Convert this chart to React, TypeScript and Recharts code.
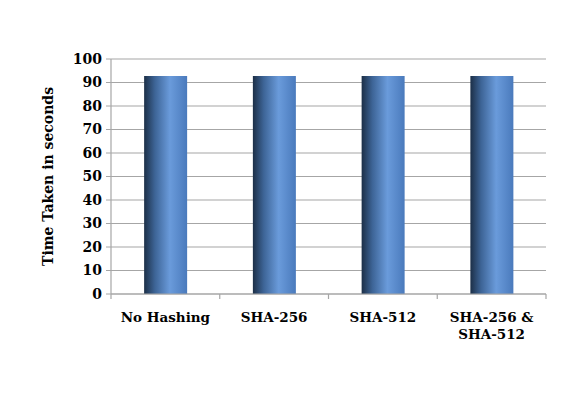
import { BarChart, Bar, XAxis, YAxis, CartesianGrid, Text } from "recharts";

const categories = ["No Hashing", "SHA-256", "SHA-512", "SHA-256 & SHA-512"];
const timeTaken = [92.8, 92.8, 92.8, 92.8];
const yTicks = [0, 10, 20, 30, 40, 50, 60, 70, 80, 90, 100];

const chartData = categories.map((name, i) => ({ name, time: timeTaken[i] }));

const FONT = "'DejaVu Serif', serif";
const GRID = "#a6a6a6";
const TICK_SIZE = 6;
const TICK_MARGIN = 12;

/* eslint-disable @typescript-eslint/no-explicit-any */
// category label, plus the tick marks that sit on the band boundaries
function CategoryTick(props: any) {
  const { x, y, payload, index, visibleTicksCount, width } = props;
  const band = width / visibleTicksCount;
  const axisY = y - TICK_SIZE - TICK_MARGIN;
  const left = x - band / 2;
  const right = x + band / 2;
  return (
    <g>
      <line x1={left} x2={left} y1={axisY} y2={axisY + 5} stroke={GRID} strokeWidth={1.2} />
      {index === visibleTicksCount - 1 && (
        <line x1={right} x2={right} y1={axisY} y2={axisY + 5} stroke={GRID} strokeWidth={1.2} />
      )}
      <Text
        x={x}
        y={y}
        width={105}
        textAnchor="middle"
        verticalAnchor="start"
        fontFamily={FONT}
        fontWeight="bold"
        fontSize={13.5}
        fill="#000"
        lineHeight={17}
      >
        {payload.value}
      </Text>
    </g>
  );
}
/* eslint-enable @typescript-eslint/no-explicit-any */

export default function App() {
  return (
    <div style={{ position: "absolute", left: 0, top: 0, background: "#fff" }}>
      <BarChart
        width={586}
        height={402}
        data={chartData}
        margin={{ top: 59, right: 40, bottom: 58, left: 0 }}
        barCategoryGap="30%"
      >
        <defs>
          <linearGradient id="barFill" x1="0" y1="0" x2="1" y2="0">
            <stop offset="0%" stopColor="#1c2f47" />
            <stop offset="25%" stopColor="#3d6496" />
            <stop offset="60%" stopColor="#6a9bdb" />
            <stop offset="100%" stopColor="#4a7abc" />
          </linearGradient>
        </defs>
        <CartesianGrid vertical={false} stroke={GRID} strokeWidth={1.2} />
        <XAxis
          dataKey="name"
          height={50}
          interval={0}
          tickLine={false}
          tickSize={TICK_SIZE}
          tickMargin={TICK_MARGIN}
          axisLine={{ stroke: GRID, strokeWidth: 1.2 }}
          tick={<CategoryTick />}
        />
        <YAxis
          domain={[0, 100]}
          ticks={yTicks}
          width={111}
          interval={0}
          axisLine={{ stroke: GRID, strokeWidth: 1.2 }}
          tickLine={{ stroke: GRID }}
          tickSize={5}
          tickMargin={4}
          tick={{ fontFamily: FONT, fontWeight: "bold", fontSize: 14, fill: "#000" }}
          label={{
            value: "Time Taken in seconds",
            angle: -90,
            position: "insideLeft",
            offset: 48,
            style: { fontFamily: FONT, fontWeight: "bold", fontSize: 14, fill: "#000", textAnchor: "middle" },
          }}
        />
        <Bar dataKey="time" fill="url(#barFill)" maxBarSize={43} isAnimationActive={false} />
      </BarChart>
    </div>
  );
}
